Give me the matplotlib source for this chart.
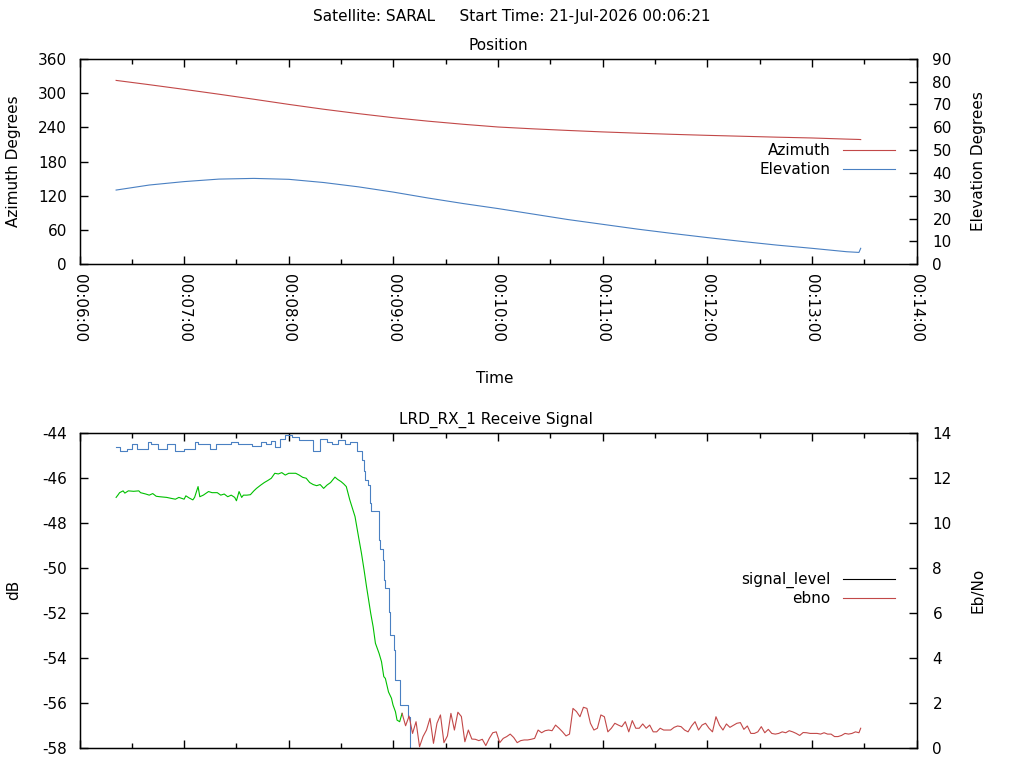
import matplotlib
matplotlib.use("Agg")
import matplotlib.pyplot as plt
from matplotlib.lines import Line2D
from matplotlib.ticker import FuncFormatter, MultipleLocator

plt.rcParams['font.family'] = ['DejaVu Sans']
plt.rcParams['font.size'] = 11
plt.rcParams['axes.unicode_minus'] = False

# position track, time in seconds since midnight
pos_t = [381, 400, 420, 440, 460, 480, 500, 520, 540, 560, 580, 600, 620, 640,
         660, 680, 700, 720, 740, 760, 780, 800, 807, 808]
azimuth = [322, 314.5, 306.3, 297.8, 289, 280, 271.5, 263.8, 256.7, 250.6, 245.2,
           240.4, 237.2, 234.4, 231.8, 229.6, 227.6, 225.8, 224.2, 222.6, 221.2,
           219.2, 218.6, 218.4]
elevation = [32.5, 34.7, 36.2, 37.3, 37.6, 37.2, 35.8, 33.9, 31.6, 29.0, 26.6,
             24.4, 22.0, 19.6, 17.5, 15.4, 13.5, 11.7, 10.0, 8.4, 7.0, 5.5, 5.2, 7.0]

# signal level (dB), sample-and-hold steps
sig_t = [381, 383, 387, 390, 393, 399, 401, 405, 410, 415, 420, 426, 428, 435,
         438, 447, 451, 459, 464, 467, 470, 472, 475, 478, 482, 486, 494, 498,
         502, 505, 508, 512, 515, 519, 522, 523, 524, 525.5, 526.5, 527, 531.5,
         532.2, 534, 534.5, 535, 537.5, 538, 540.4, 541.2, 543.6, 544, 548.2,
         549.4, 808]
sig_db = [-44.62, -44.80, -44.73, -44.50, -44.73, -44.43, -44.50, -44.73, -44.50,
          -44.80, -44.73, -44.43, -44.50, -44.73, -44.50, -44.43, -44.50, -44.57,
          -44.43, -44.50, -44.35, -44.62, -44.28, -44.09, -44.21, -44.33, -44.80,
          -44.28, -44.43, -44.50, -44.33, -44.50, -44.43, -44.80, -45.20, -45.70,
          -46.10, -46.30, -47.10, -47.47, -48.76, -49.18, -49.65, -50.54, -50.90,
          -51.94, -52.98, -53.64, -54.97, -55.86, -56.08, -56.60, -59.5, -59.5]

# Eb/No while locked
lock_t = [381, 382, 383, 385, 386, 388, 391, 394, 395, 398, 400, 402, 404, 406,
          410, 413, 415, 417, 420, 421, 423, 425, 426, 428, 429, 431, 434, 436,
          439, 441, 443, 445, 447, 449, 450, 451.5, 453, 454, 456, 458, 460,
          461.5, 464, 466, 468, 470, 472, 474, 476, 478, 480, 482.5, 484, 486,
          488, 490, 492, 494, 496, 498, 500, 502, 504, 506.5, 508, 510, 511.5,
          513, 515, 518, 520, 521.7, 523.2, 524.6, 525.5, 527, 528.4, 529.7,
          531.8, 533.2, 534.5, 535.4, 537.2, 538.9, 539.8, 541.2, 542.1, 543.6, 545]
lock_ebno = [11.13, 11.23, 11.34, 11.42, 11.32, 11.42, 11.40, 11.42, 11.34, 11.28,
             11.23, 11.30, 11.18, 11.16, 11.13, 11.08, 11.05, 11.13, 11.05, 11.20,
             11.10, 11.02, 11.13, 11.61, 11.16, 11.23, 11.39, 11.34, 11.34, 11.23,
             11.28, 11.16, 11.23, 11.13, 10.98, 11.39, 11.13, 11.23, 11.23, 11.25,
             11.42, 11.53, 11.68, 11.79, 11.88, 11.98, 12.20, 12.17, 12.23, 12.12,
             12.20, 12.20, 12.20, 12.12, 12.02, 11.98, 11.79, 11.70, 11.65, 11.70,
             11.53, 11.68, 11.79, 12.03, 11.93, 11.83, 11.73, 11.61, 11.02, 10.28,
             9.39, 8.65, 7.91, 7.17, 6.73, 5.99, 5.39, 4.66, 4.21, 3.84, 3.18, 3.10,
             2.50, 2.22, 1.92, 1.62, 1.25, 1.18, 1.55]

# Eb/No after loss of lock, 2 s samples from 545 s
unlock_t = list(range(545, 809, 2)) + [808]
unlock_ebno = [1.55, 1.00, 1.43, 0.66, 1.18, 0.07, 0.52, 0.81, 1.33, 0.22, 1.11,
               1.48, 0.25, 0.55, 1.55, 0.81, 1.60, 1.41, 0.29, 0.81, 0.41, 0.40,
               0.34, 0.40, 0.12, 0.44, 0.69, 0.73, 0.25, 0.44, 0.52, 0.63, 0.48,
               0.25, 0.34, 0.37, 0.37, 0.40, 0.44, 0.81, 0.69, 0.78, 0.81, 0.78,
               1.03, 0.89, 0.73, 0.55, 0.63, 1.77, 1.63, 1.40, 1.82, 1.77, 1.11,
               0.81, 0.89, 1.48, 1.40, 0.73, 0.89, 1.11, 1.03, 0.96, 1.18, 0.73,
               1.23, 0.89, 0.89, 1.08, 0.89, 1.03, 0.73, 0.73, 0.89, 0.81, 0.81,
               0.81, 0.93, 0.99, 0.96, 0.81, 0.73, 0.99, 1.18, 0.81, 1.03, 1.11,
               0.89, 0.73, 1.40, 1.03, 0.81, 1.08, 0.93, 1.02, 1.11, 1.14, 0.84,
               0.99, 0.66, 0.66, 0.73, 0.96, 0.69, 0.84, 0.66, 0.63, 0.66, 0.73,
               0.69, 0.78, 0.73, 0.66, 0.57, 0.70, 0.69, 0.66, 0.66, 0.66, 0.63,
               0.69, 0.63, 0.63, 0.52, 0.52, 0.57, 0.66, 0.63, 0.66, 0.73, 0.69,
               0.89]

RED = '#c24848'
BLUE = '#4a80c2'
GREEN = '#00c000'
LW = 0.8


def hms(v, pos):
    v = int(round(v))
    return "%02d:%02d:%02d" % (v // 3600, (v // 60) % 60, v % 60)


def style_x(ax):
    ax.set_xlim(360, 840)
    ax.xaxis.set_major_locator(MultipleLocator(60))
    ax.xaxis.set_minor_locator(MultipleLocator(30))
    ax.xaxis.set_major_formatter(FuncFormatter(hms))
    ax.tick_params(axis='x', which='both', direction='in', top=True, bottom=True)
    ax.tick_params(axis='x', which='major', length=6, width=1)
    ax.tick_params(axis='x', which='minor', length=3.3, width=1)
    for s in ax.spines.values():
        s.set_linewidth(1)


fig = plt.figure(figsize=(10.24, 7.68), dpi=100)
L, W = 79.5 / 1024, 837 / 1024

# ---- Position
ax1 = fig.add_axes([L, 1 - 264.3 / 768, W, 205.6 / 768])
ax1b = ax1.twinx()
l_az, = ax1.plot(pos_t, azimuth, color=RED, lw=LW, label='Azimuth')
l_el, = ax1b.plot(pos_t, elevation, color=BLUE, lw=LW, label='Elevation')
ax1.set_ylim(0, 360)
ax1.set_yticks(range(0, 361, 60))
ax1b.set_ylim(0, 90)
ax1b.set_yticks(range(0, 91, 10))
style_x(ax1)
ax1.tick_params(axis='x', which='major', pad=7, labelrotation=-90)
ax1.tick_params(axis='y', direction='in', length=6, width=1, pad=9, right=False)
ax1b.tick_params(axis='y', direction='in', length=6, width=1, pad=11.5)
ax1b.legend(handles=[l_az, l_el], loc='center right', bbox_to_anchor=(0.974, 0.507),
            frameon=False, markerfirst=False, handlelength=3.4, handletextpad=0.8,
            labelspacing=0.28, borderpad=0, borderaxespad=0, fontsize=11)

# ---- Receive signal
ax2 = fig.add_axes([L, 1 - 748.3 / 768, W, 315.6 / 768])
ax2b = ax2.twinx()
ax2.plot(sig_t, sig_db, color=BLUE, lw=LW, drawstyle='steps-post')
ax2b.plot(lock_t, lock_ebno, color=GREEN, lw=LW)
ax2b.plot(unlock_t, unlock_ebno, color=RED, lw=LW)
ax2.set_ylim(-58, -44)
ax2.set_yticks(range(-58, -43, 2))
ax2b.set_ylim(0, 14)
ax2b.set_yticks(range(0, 15, 2))
style_x(ax2)
ax2.tick_params(axis='x', labelbottom=False)
ax2.tick_params(axis='y', direction='in', length=6, width=1, pad=9, right=False)
ax2b.tick_params(axis='y', direction='in', length=6, width=1, pad=11.5)
leg_handles = [Line2D([], [], color='black', lw=LW, label='signal_level'),
               Line2D([], [], color=RED, lw=LW, label='ebno')]
ax2b.legend(handles=leg_handles, loc='center right', bbox_to_anchor=(0.974, 0.505),
            frameon=False, markerfirst=False, handlelength=3.4, handletextpad=0.8,
            labelspacing=0.18, borderpad=0, borderaxespad=0, fontsize=11)

# ---- texts
fig.text(512 / 1024, 1 - 17 / 768, 'Satellite: SARAL     Start Time: 21-Jul-2026 00:06:21',
         ha='center', va='center')
fig.text(498 / 1024, 1 - 46 / 768, 'Position', ha='center', va='center')
fig.text(496 / 1024, 1 - 420 / 768, 'LRD_RX_1 Receive Signal', ha='center', va='center')
fig.text(495 / 1024, 1 - 379 / 768, 'Time', ha='center', va='center')
fig.text(14 / 1024, 1 - 161 / 768, 'Azimuth Degrees', rotation=90, ha='center', va='center')
fig.text(978 / 1024, 1 - 161 / 768, 'Elevation Degrees', rotation=90, ha='center', va='center')
fig.text(14 / 1024, 1 - 590 / 768, 'dB', rotation=90, ha='center', va='center')
fig.text(978 / 1024, 1 - 590 / 768, 'Eb/No', rotation=90, ha='center', va='center')

fig.savefig('out.png', dpi=100)
